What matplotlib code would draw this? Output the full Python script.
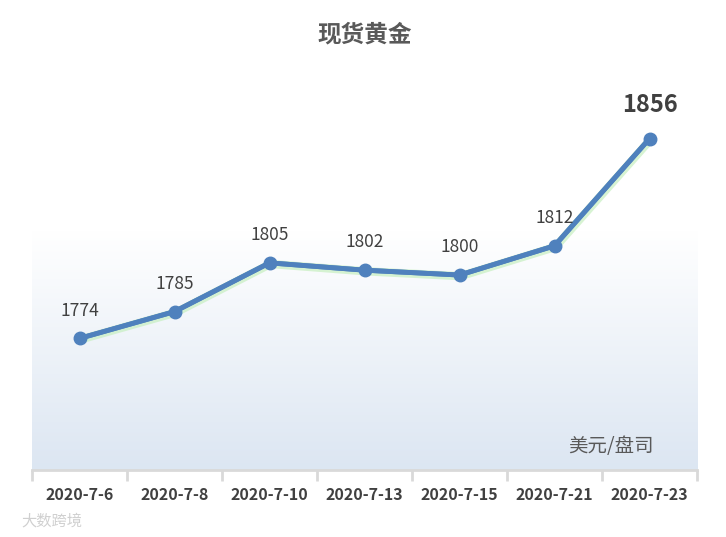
import matplotlib
matplotlib.use("Agg")
import matplotlib.pyplot as plt
import matplotlib.patheffects as pe
import numpy as np
from matplotlib.colors import LinearSegmentedColormap

plt.rcParams['font.family'] = ['Noto Sans CJK SC', 'DejaVu Sans']

categories = ["2020-7-6", "2020-7-8", "2020-7-10", "2020-7-13", "2020-7-15", "2020-7-21", "2020-7-23"]
values = [1774, 1785, 1805, 1802, 1800, 1812, 1856]
title = "现货黄金"
unit = "美元/盘司"

fig = plt.figure(figsize=(7.26, 5.37), dpi=100)
ax = fig.add_axes([0.0441, 0.1248, 0.916, 0.726])

ymin, ymax = 1720, 1880
ax.set_xlim(-0.5, len(categories) - 0.5)
ax.set_ylim(ymin, ymax)

# gradient background
grad_top = 1818
n = 256
g = np.linspace(0, 1, n).reshape(-1, 1)
cmap = LinearSegmentedColormap.from_list("bg", ["#dce6f2", "#ffffff"])
ax.imshow(g, cmap=cmap, aspect="auto", origin="lower",
          extent=(-0.5, len(categories) - 0.5, ymin, grad_top), zorder=0)

x = np.arange(len(categories))
glow, = ax.plot(x, values, color="#4f81bd", lw=3.5, zorder=2,
                solid_capstyle="round")
glow.set_path_effects([pe.Stroke(linewidth=6, foreground="#c6efc0", alpha=0.7, offset=(0.6, -0.8)),
                       pe.Normal()])
ax.plot(x, values, color="#4f81bd", lw=3.5, marker="o", ms=9,
        solid_capstyle="round", zorder=3)

for i, v in enumerate(values):
    if i == len(values) - 1:
        ax.annotate(str(v), (i, v), xytext=(0, 24), textcoords="offset points",
                    ha="center", va="center", fontsize=17, fontweight="bold",
                    color="#404040")
    else:
        ax.annotate(str(v), (i, v), xytext=(0, 20), textcoords="offset points",
                    ha="center", va="center", fontsize=12.5, color="#404040")

ax.set_title(title, fontsize=17, fontweight="bold", color="#595959", pad=28)

ax.text(0.935, 0.06, unit, transform=ax.transAxes, ha="right", va="center",
        fontsize=14, color="#595959")

for s in ["top", "left", "right"]:
    ax.spines[s].set_visible(False)
ax.spines["bottom"].set_color("#d9d9d9")
ax.spines["bottom"].set_linewidth(2)
ax.set_yticks([])
ax.set_xticks(x)
ax.set_xticklabels(categories, fontsize=11.5, fontweight="bold", color="#404040")
ax.tick_params(axis="x", which="major", length=0, pad=12)
ax.set_xticks(np.arange(-0.5, len(categories), 1.0), minor=True)
ax.tick_params(axis="x", which="minor", length=8, width=2, color="#d9d9d9", direction="out")

fig.text(0.03, 0.03, "大数跨境", fontsize=11, color="#d0d0d0", ha="left", va="center")

fig.savefig("out.png", dpi=100)
